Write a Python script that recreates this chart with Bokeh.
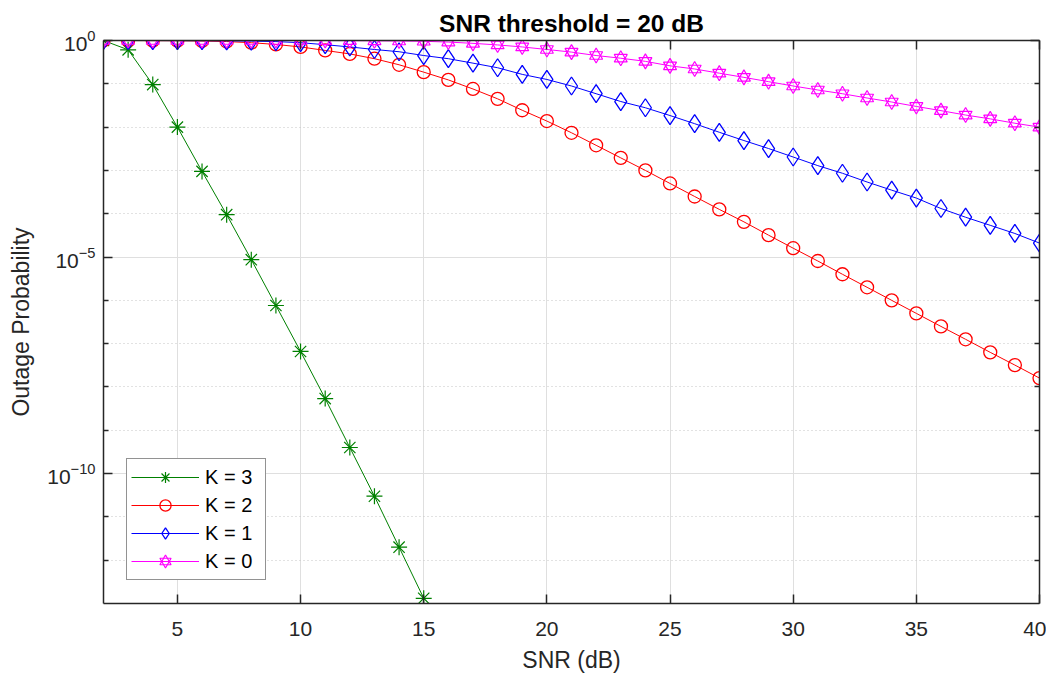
from bokeh.plotting import figure
from bokeh.models import (Range1d, LinearAxis, LogAxis, FixedTicker, Legend,
                          LegendItem, CustomJSTickFormatter)
from bokeh.embed import file_html
from bokeh.resources import INLINE

# ---------------- data ----------------
snr_db = list(range(2, 41))
snr_db_k3 = list(range(2, 16))

p_out_k3 = [1.0, 0.61, 0.096, 1.0e-2, 9.5e-4, 9.5e-5, 8.7e-6, 7.6e-7, 6.6e-8,
            5.4e-9, 4.0e-10, 3.0e-11, 2.0e-12, 1.32e-13]

p_out_k2 = [1.0, 0.998, 0.993, 0.986, 0.973, 0.945, 0.89, 0.81, 0.71, 0.59,
            0.49, 0.38, 0.275, 0.186, 0.123, 0.076, 0.045, 0.0245, 0.0138,
            0.0074, 0.0038, 0.00195, 1.0e-3, 5.0e-4, 2.5e-4, 1.26e-4, 6.5e-5,
            3.2e-5, 1.6e-5, 8.1e-6, 4.0e-6, 2.0e-6, 1.0e-6, 5.0e-7, 2.5e-7,
            1.26e-7, 6.3e-8, 3.2e-8, 1.6e-8]

p_out_k1 = [1.0, 1.0, 0.998, 0.995, 0.99, 0.982, 0.966, 0.944, 0.89, 0.80,
            0.71, 0.62, 0.55, 0.45, 0.38, 0.30, 0.235, 0.165, 0.126, 0.089,
            0.059, 0.039, 0.028, 0.0185, 0.012, 0.0076, 0.0049, 0.0032,
            0.00204, 0.00129, 8.6e-4, 5.4e-4, 3.5e-4, 2.3e-4, 1.32e-4, 8.3e-5,
            5.4e-5, 3.5e-5, 2.1e-5]

p_out_k0 = [1.0, 1.0, 1.0, 1.0, 1.0, 1.0, 1.0, 0.9995, 0.999, 0.997, 0.993,
            0.985, 0.975, 0.96, 0.92, 0.86, 0.79, 0.71, 0.62, 0.54, 0.45,
            0.39, 0.33, 0.26, 0.22, 0.176, 0.141, 0.112, 0.089, 0.072, 0.059,
            0.047, 0.038, 0.030, 0.024, 0.019, 0.0155, 0.0123, 0.010]

x_ticks = [5, 10, 15, 20, 25, 30, 35, 40]
y_major_ticks = [1e-10, 1e-5, 1.0]
y_minor_ticks = [1e-1, 1e-2, 1e-3, 1e-4, 1e-6, 1e-7, 1e-8, 1e-9,
                 1e-11, 1e-12]

labels = ["K = 3", "K = 2", "K = 1", "K = 0"]
title_text = "SNR threshold = 20 dB"

# ---------------- styling ----------------
FONT = "Liberation Sans"
INK = "#262626"
GREEN = "#008000"
RED = "#ff0000"
BLUE = "#0000ff"
MAGENTA = "#ff00ff"

p = figure(width=1046, height=675, y_axis_type="log",
           x_range=Range1d(2, 40), y_range=Range1d(1e-13, 1.0),
           output_backend="svg", toolbar_location=None,
           min_border_left=103, min_border_right=7,
           min_border_top=40, min_border_bottom=72)

p.background_fill_color = "white"
p.border_fill_color = "white"
p.outline_line_color = None

# title
p.title.text = title_text
p.title.align = "center"
p.title.text_font = FONT
p.title.text_font_size = "24.5px"
p.title.text_font_style = "bold"
p.title.text_color = "#000000"
p.title.standoff = 8

xticker = FixedTicker(ticks=x_ticks, minor_ticks=[])
yticker = FixedTicker(ticks=y_major_ticks, minor_ticks=y_minor_ticks)

def style_axis(ax):
    ax.axis_line_color = INK
    ax.axis_line_width = 1.5
    ax.major_tick_line_color = INK
    ax.major_tick_line_width = 1.5
    ax.minor_tick_line_color = INK
    ax.minor_tick_line_width = 1.5
    ax.major_tick_in = 9
    ax.major_tick_out = 0
    ax.minor_tick_in = 5
    ax.minor_tick_out = 0
    ax.major_label_text_font = FONT
    ax.major_label_text_color = INK
    ax.axis_label_text_font = FONT
    ax.axis_label_text_color = INK
    ax.axis_label_text_font_style = "normal"

xa = p.xaxis[0]
xa.ticker = xticker
style_axis(xa)
xa.major_label_text_font_size = "21px"
xa.major_label_standoff = 18
xa.axis_label = "SNR (dB)"
xa.axis_label_text_font_size = "23px"
xa.axis_label_standoff = 8

ya = p.yaxis[0]
ya.ticker = yticker
style_axis(ya)
ya.major_label_text_font_size = "21px"
ya.major_label_standoff = 8
ya.axis_label = "Outage Probability"
ya.axis_label_text_font_size = "23px"
ya.axis_label_standoff = 10

blank = CustomJSTickFormatter(code="return ''")
top_ax = LinearAxis(ticker=xticker, formatter=blank)
style_axis(top_ax)
top_ax.major_label_text_font_size = "0px"
top_ax.major_label_standoff = 0
p.add_layout(top_ax, "above")

right_ax = LogAxis(ticker=yticker, formatter=blank)
style_axis(right_ax)
right_ax.major_label_text_font_size = "0px"
right_ax.major_label_standoff = 0
p.add_layout(right_ax, "right")

# grids
p.xgrid.grid_line_color = "#dfdfdf"
p.xgrid.grid_line_width = 1
p.ygrid.grid_line_color = "#dfdfdf"
p.ygrid.grid_line_width = 1
p.ygrid.minor_grid_line_color = "#c4c4c4"
p.ygrid.minor_grid_line_dash = "1 3"
p.ygrid.minor_grid_line_width = 1

# series
r3l = p.line(snr_db_k3, p_out_k3, line_color=GREEN, line_width=1)
r3m = p.scatter(snr_db_k3, p_out_k3, marker="asterisk", size=16,
                line_color=GREEN, line_width=1.2)

r2l = p.line(snr_db, p_out_k2, line_color=RED, line_width=1)
r2m = p.scatter(snr_db, p_out_k2, marker="circle", size=13,
                line_color=RED, fill_color=None, line_width=1.3)

r1l = p.line(snr_db, p_out_k1, line_color=BLUE, line_width=1)
r1m = p.scatter(snr_db, p_out_k1, marker="diamond", size=18,
                line_color=BLUE, fill_color=None, line_width=1.3)

r0l = p.line(snr_db, p_out_k0, line_color=MAGENTA, line_width=1)
r0a = p.scatter(snr_db, p_out_k0, marker="triangle", size=13,
                line_color=MAGENTA, fill_color=None, line_width=1.2)
r0b = p.scatter(snr_db, p_out_k0, marker="inverted_triangle", size=13,
                line_color=MAGENTA, fill_color=None, line_width=1.2)

legend = Legend(items=[
    LegendItem(label=labels[0], renderers=[r3l, r3m]),
    LegendItem(label=labels[1], renderers=[r2l, r2m]),
    LegendItem(label=labels[2], renderers=[r1l, r1m]),
    LegendItem(label=labels[3], renderers=[r0l, r0a, r0b]),
], location="bottom_left")
legend.margin = 23
legend.padding = 4
legend.spacing = 0
legend.glyph_width = 68
legend.glyph_height = 28
legend.label_height = 28
legend.label_width = 56
legend.label_standoff = 6
legend.label_text_font = FONT
legend.label_text_font_size = "20px"
legend.label_text_color = "#000000"
legend.border_line_color = INK
legend.border_line_width = 1
legend.background_fill_color = "white"
legend.background_fill_alpha = 1.0
p.add_layout(legend)

open("out.html", "w").write(file_html(p, INLINE))
